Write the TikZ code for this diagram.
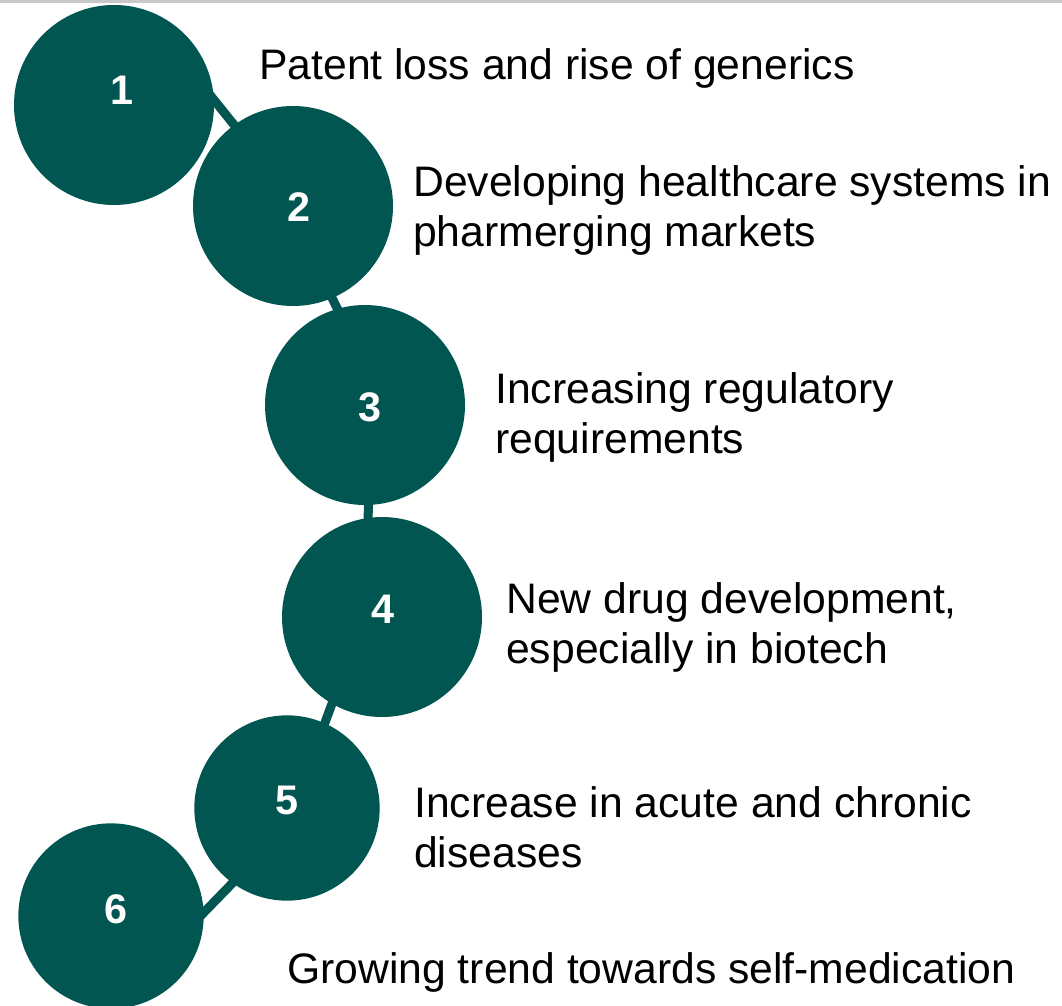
\documentclass[tikz,border=0pt]{standalone}
\usepackage{fontspec}
\setmainfont{Liberation Sans}
\usetikzlibrary{backgrounds}
\definecolor{teal}{RGB}{2,86,81}
\definecolor{rulegray}{RGB}{200,200,200}
\begin{document}
\begin{tikzpicture}[x=0.75pt,y=-0.75pt,
  bead/.style={circle,fill=teal,draw=none,inner sep=0pt,outer sep=0pt,minimum size=150pt},
  smallbead/.style={bead,minimum size=139pt},
  num/.style={text=white,font=\fontsize{31}{31}\selectfont\bfseries,inner sep=0pt},
  caption/.style={anchor=base west,inner sep=0pt,align=left,
    font=\fontsize{32}{37.5}\selectfont},
  link/.style={draw=teal,line width=6.75pt,shorten <=-6pt,shorten >=-6pt}]
\useasboundingbox (0,0) rectangle (1062,1005);
% thin rule along the top edge
\draw[rulegray,line width=1.9pt] (0,1.3) -- (1062,1.3);
% beads
\node[bead] (c1) at (114,105) {};
\node[bead] (c2) at (293,206) {};
\node[bead] (c3) at (365,405) {};
\node[bead] (c4) at (382,617) {};
\node[smallbead] (c5) at (287,808) {};
\node[smallbead] (c6) at (111,916) {};
% numbers
\node[num] (n1) at (122,90) {1};
\node[num] (n2) at (299,207) {2};
\node[num] (n3) at (370,407) {3};
\node[num] (n4) at (383,609) {4};
\node[num] (n5) at (287,800) {5};
\node[num] (n6) at (116,909) {6};
% chain links behind the beads
\begin{pgfonlayer}{background}
\draw[link] (c1.3) -- (c2.126);
\draw[link] (c2.-67) -- (c3.106);
\draw[link] (c3.-88) -- (c4.98);
\draw[link] (c4.-120) -- (c5.66);
\draw[link] (c5.-126) -- (c6.2);
\end{pgfonlayer}
% captions (two-line captions are placed by the baseline of their last line)
\node[caption] (t1) at (259,80) {Patent loss and rise of generics};
\node[caption] (t2) at (413,247) {Developing healthcare systems in\\pharmerging markets};
\node[caption] (t3) at (495,453) {Increasing regulatory\\requirements};
\node[caption] (t4) at (506,663) {New drug development,\\especially in biotech};
\node[caption] (t5) at (414,867) {Increase in acute and chronic\\diseases};
\node[caption] (t6) at (287,983) {Growing trend towards self-medication};
\end{tikzpicture}
\end{document}
